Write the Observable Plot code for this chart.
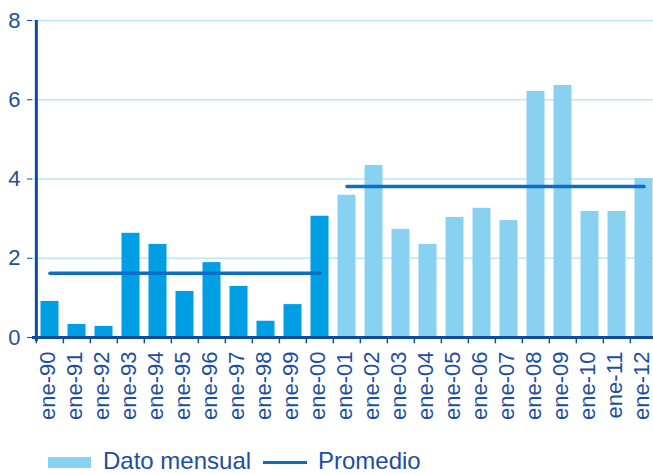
<!DOCTYPE html>
<html>
<head>
<meta charset="utf-8">
<script src="https://cdn.jsdelivr.net/npm/d3@7"></script>
<script src="https://cdn.jsdelivr.net/npm/@observablehq/plot@0.6"></script>
<style>
  html, body { margin: 0; padding: 0; background: #fff; overflow: hidden; }
  #wrap { width: 653px; font-family: "Liberation Sans", Arial, sans-serif; }
  #legend { position: relative; width: 653px; height: 34px; color: #1c4f9c; font-size: 24px; }
  #legend .sw { position: absolute; }
  #legend .lb { position: absolute; top: 9px; line-height: 1; }
</style>
</head>
<body>
<div id="wrap">
  <div id="chart"></div>
  <div id="legend">
    <div class="sw" style="left:48px;top:17px;width:43px;height:11px;background:#89d1f1"></div>
    <div class="lb" style="left:103px">Dato mensual</div>
    <div class="sw" style="left:263px;top:21px;width:44px;height:3px;background:#0a6ec4"></div>
    <div class="lb" style="left:318px">Promedio</div>
  </div>
</div>
<script>
const categories = ["ene-90","ene-91","ene-92","ene-93","ene-94","ene-95","ene-96","ene-97","ene-98","ene-99","ene-00",
  "ene-01","ene-02","ene-03","ene-04","ene-05","ene-06","ene-07","ene-08","ene-09","ene-10","ene-11","ene-12"];
const values = [0.91,0.33,0.28,2.63,2.35,1.16,1.89,1.29,0.41,0.83,3.06,
  3.59,4.34,2.73,2.35,3.03,3.26,2.95,6.21,6.36,3.18,3.18,4.01];
const periods = ["1990-2000","2001-2012"];
const periodOf = categories.map((c, i) => i <= 10 ? periods[0] : periods[1]);
const promedio = [1.62, 3.81];
const yTicks = [0, 2, 4, 6, 8];

const data = categories.map((c, i) => ({cat: c, value: values[i], period: periodOf[i], avg: promedio[periods.indexOf(periodOf[i])]}));

const W = 653, H = 440;
const x0 = 32.3, x1 = 660;
const step = (x1 - x0) / categories.length;
const labelColor = "#1c4f9c";
const axisColor = "#0f4c9e";

const chart = Plot.plot({
  width: W,
  height: H,
  marginTop: 20,
  marginBottom: 103,
  marginLeft: 32,
  marginRight: 0,
  style: {fontFamily: "'Liberation Sans', Arial, sans-serif", background: "#fff", overflow: "hidden"},
  x: {domain: categories, range: [x0, x1], padding: 0},
  y: {domain: [0, 8], ticks: yTicks},
  color: {domain: periods, range: ["#009ee2", "#89d1f1"]},
  marks: [
    Plot.ruleY(yTicks.filter(d => d > 0), {stroke: "#bde6f8", strokeWidth: 1.5}),
    Plot.barY(data, {x: "cat", y: "value", fill: "period", insetLeft: 4.5, insetRight: 4.5}),
    Plot.lineY(data, {x: "cat", y: "avg", z: "period", stroke: "#0a6ec4", strokeWidth: 3.5}),
    Plot.ruleX(data, {x: "cat", y1: 0, y2: -0.16, dx: -step / 2, stroke: axisColor, strokeWidth: 1.5}),
    Plot.ruleY([0], {stroke: axisColor, strokeWidth: 3}),
    Plot.ruleX([0], {x: () => categories[0], dx: -step / 2, y1: -0.1, y2: 8, stroke: axisColor, strokeWidth: 3}),
    Plot.axisY({ticks: yTicks, tickSize: 5, tickPadding: 7, fontSize: 22, color: labelColor, stroke: axisColor, tickFormat: d => String(d), label: null}),
    Plot.axisX({tickSize: 0, tickPadding: 14, tickRotate: -90, fontSize: 22, dx: -2.5, color: labelColor, label: null})
  ]
});
document.getElementById("chart").appendChild(chart);
</script>
</body>
</html>
